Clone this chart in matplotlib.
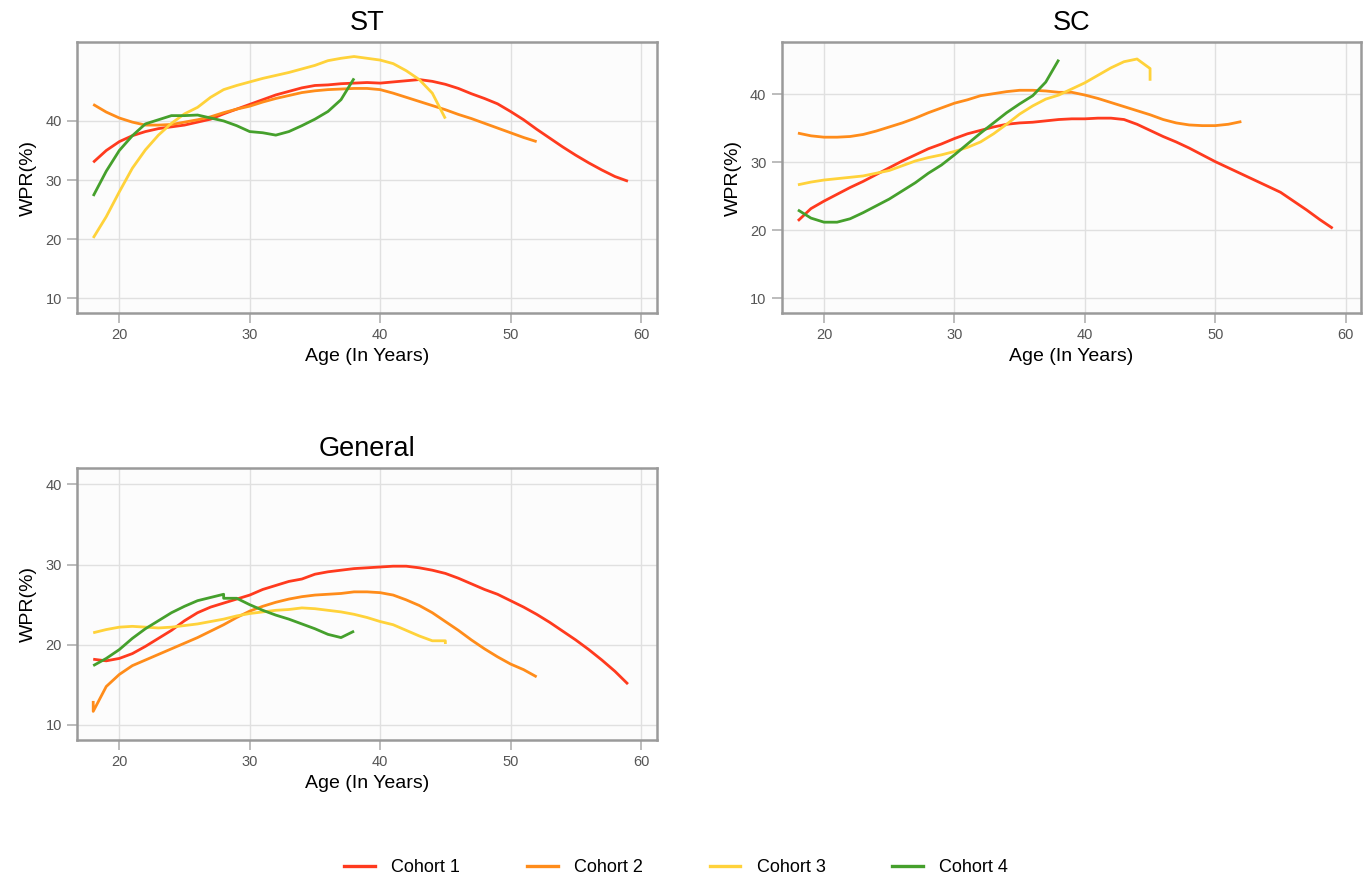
import matplotlib
matplotlib.use("Agg")
import matplotlib.pyplot as plt

plt.rcParams['font.family'] = ['Liberation Sans', 'DejaVu Sans']

cohorts = ['Cohort 1', 'Cohort 2', 'Cohort 3', 'Cohort 4']
colors = ['#FF3A1E', '#FF8C1A', '#FFD23A', '#45A02C']

# ages per cohort
age_c1 = list(range(18, 60))
age_c2 = list(range(18, 53))
age_c3 = list(range(18, 46))
age_c4 = list(range(18, 39))

# ST
st_c1 = [33.0, 35.0, 36.5, 37.5, 38.2, 38.7, 39.0, 39.3, 39.8, 40.3, 41.2, 42.0, 42.8, 43.6,
         44.4, 45.0, 45.6, 46.0, 46.1, 46.3, 46.4, 46.5, 46.4, 46.6, 46.8, 47.0, 46.7, 46.2,
         45.5, 44.6, 43.8, 42.9, 41.6, 40.2, 38.6, 37.1, 35.6, 34.2, 32.9, 31.7, 30.6, 29.8]
st_c2 = [42.8, 41.5, 40.5, 39.8, 39.3, 39.3, 39.4, 39.8, 40.2, 40.7, 41.4, 42.0, 42.5, 43.2,
         43.8, 44.3, 44.8, 45.1, 45.3, 45.4, 45.5, 45.5, 45.3, 44.7, 44.0, 43.3, 42.6, 41.9,
         41.1, 40.4, 39.6, 38.8, 38.0, 37.2, 36.5]
st_c3 = [20.2, 23.8, 28.0, 32.0, 35.1, 37.6, 39.6, 41.2, 42.3, 44.0, 45.3, 46.0, 46.6, 47.2,
         47.7, 48.2, 48.8, 49.4, 50.2, 50.6, 50.9, 50.6, 50.3, 49.7, 48.5, 47.0, 44.7, 40.4]
st_c4 = [27.3, 31.5, 35.0, 37.5, 39.5, 40.2, 40.9, 40.9, 41.0, 40.5, 40.0, 39.2, 38.2, 38.0,
         37.6, 38.2, 39.2, 40.3, 41.6, 43.6, 47.2]

# SC
sc_c1 = [21.4, 23.2, 24.3, 25.3, 26.3, 27.2, 28.2, 29.2, 30.2, 31.1, 32.0, 32.7, 33.5, 34.2,
         34.7, 35.2, 35.6, 35.8, 35.9, 36.1, 36.3, 36.4, 36.4, 36.5, 36.5, 36.3, 35.6, 34.7,
         33.8, 33.0, 32.1, 31.1, 30.1, 29.2, 28.3, 27.4, 26.5, 25.6, 24.3, 23.0, 21.6, 20.3]
sc_c2 = [34.3, 33.9, 33.7, 33.7, 33.8, 34.1, 34.6, 35.2, 35.8, 36.5, 37.3, 38.0, 38.7, 39.2,
         39.8, 40.1, 40.4, 40.6, 40.6, 40.5, 40.3, 40.3, 39.9, 39.4, 38.8, 38.2, 37.6, 37.0,
         36.3, 35.8, 35.5, 35.4, 35.4, 35.6, 36.0]
sc_age_c3 = list(range(18, 46)) + [45]
sc_c3 = [26.7, 27.1, 27.4, 27.6, 27.8, 28.0, 28.4, 28.8, 29.5, 30.2, 30.7, 31.1, 31.6, 32.2,
         33.0, 34.2, 35.6, 37.1, 38.3, 39.3, 39.9, 40.8, 41.7, 42.8, 43.9, 44.8, 45.2, 43.8, 42.0]
sc_c4 = [23.0, 21.8, 21.2, 21.2, 21.7, 22.6, 23.6, 24.6, 25.8, 27.0, 28.4, 29.6, 31.1, 32.7,
         34.3, 35.8, 37.3, 38.6, 39.8, 41.8, 45.1]

# General
gen_c1 = [18.2, 18.0, 18.3, 18.9, 19.8, 20.8, 21.8, 23.0, 24.0, 24.7, 25.2, 25.7, 26.2, 26.9,
          27.4, 27.9, 28.2, 28.8, 29.1, 29.3, 29.5, 29.6, 29.7, 29.8, 29.8, 29.6, 29.3, 28.9,
          28.3, 27.6, 26.9, 26.3, 25.5, 24.7, 23.8, 22.8, 21.7, 20.6, 19.4, 18.1, 16.7, 15.1]
gen_age_c2 = [18] + list(range(18, 53))
gen_c2 = [13.0, 11.7, 14.8, 16.3, 17.4, 18.1, 18.8, 19.5, 20.2, 20.9, 21.7, 22.5, 23.4, 24.2,
          24.8, 25.3, 25.7, 26.0, 26.2, 26.3, 26.4, 26.6, 26.6, 26.5, 26.2, 25.6, 24.9, 24.0,
          22.9, 21.8, 20.6, 19.5, 18.5, 17.6, 16.9, 16.0]
gen_age_c3 = list(range(18, 46)) + [45]
gen_c3 = [21.5, 21.9, 22.2, 22.3, 22.2, 22.1, 22.2, 22.4, 22.6, 22.9, 23.2, 23.6, 23.9, 24.1,
          24.3, 24.4, 24.6, 24.5, 24.3, 24.1, 23.8, 23.4, 22.9, 22.5, 21.8, 21.1, 20.5, 20.5, 20.1]
gen_age_c4 = list(range(18, 29)) + list(range(28, 39))
gen_c4 = [17.4, 18.3, 19.4, 20.8, 22.0, 23.0, 24.0, 24.8, 25.5, 25.9, 26.3, 25.8, 25.8, 25.0,
          24.3, 23.7, 23.2, 22.6, 22.0, 21.3, 20.9, 21.7]

panels = [
    ('ST', [0.0564, 0.6451, 0.4243, 0.3069], (7.5, 53.3),
     [(age_c1, st_c1), (age_c2, st_c2), (age_c3, st_c3), (age_c4, st_c4)]),
    ('SC', [0.5723, 0.6451, 0.4243, 0.3069], (7.84, 47.65),
     [(age_c1, sc_c1), (age_c2, sc_c2), (sc_age_c3, sc_c3), (age_c4, sc_c4)]),
    ('General', [0.0564, 0.1610, 0.4243, 0.3080], (8.13, 42.0),
     [(age_c1, gen_c1), (gen_age_c2, gen_c2), (gen_age_c3, gen_c3), (gen_age_c4, gen_c4)]),
]

fig = plt.figure(figsize=(13.66, 8.82), dpi=100)

for title, rect, ylim, series in panels:
    ax = fig.add_axes(rect)
    ax.set_facecolor('#FCFCFC')
    for (x, y), c, lab in zip(series, colors, cohorts):
        ax.plot(x, y, color=c, lw=2.0, label=lab, solid_capstyle='butt')
    ax.set_xlim(16.76, 61.2)
    ax.set_ylim(*ylim)
    ax.set_xticks([20, 30, 40, 50, 60])
    ax.set_yticks([10, 20, 30, 40])
    ax.grid(True, color='#E0E0E0', lw=1)
    ax.set_axisbelow(True)
    for s in ax.spines.values():
        s.set_color('#9A9A9A')
        s.set_linewidth(1.8)
    ax.tick_params(length=7, width=1.2, color='#B0B0B0', labelcolor='#555555',
                   labelsize=10.5, pad=4)
    ax.set_title(title, fontsize=19.5, pad=9)
    ax.set_xlabel('Age (In Years)', fontsize=14, labelpad=4)
    ax.set_ylabel('WPR(%)', fontsize=14, labelpad=6)

handles = [plt.Line2D([], [], color=c, lw=2.4) for c in colors]
fig.legend(handles, cohorts, loc='center', bbox_to_anchor=(0.495, 0.016), ncol=4,
           frameon=False, fontsize=13, handlelength=1.7, columnspacing=3.7,
           handletextpad=0.9)

fig.savefig('out.png', dpi=100)
